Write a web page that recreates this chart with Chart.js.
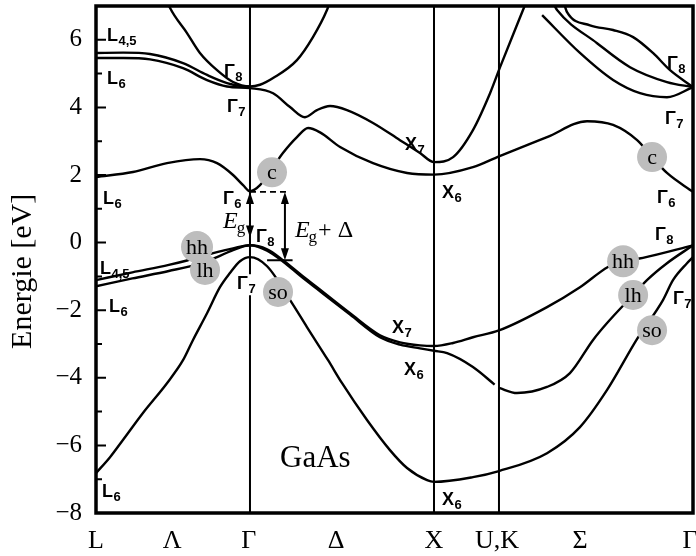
<!DOCTYPE html>
<html>
<head>
<meta charset="utf-8">
<script src="https://cdn.jsdelivr.net/npm/chart.js@4.4.0/dist/chart.umd.min.js"></script>
<style>
  html, body { margin: 0; padding: 0; background: #fff; }
</style>
</head>
<body>
<canvas id="bandChart" width="696" height="556"></canvas>
<script>
// k-path positions (L - Gamma - X - U,K - Gamma) and the axis labels under them
var kTicks = [0, 0.418, 0.84, 1.319, 1.857, 2.203, 2.659, 3.264];
var kNames = ['L', 'Λ', 'Γ', 'Δ', 'X', 'U,K', 'Σ', 'Γ'];
var kLines = [0.846, 1.857, 2.214];
var eTicks = [-8, -6, -4, -2, 0, 2, 4, 6];
var eMinor = [-7, -5, -3, -1, 1, 3, 5];

// bands, [k, E in eV]
var gam8Upper = [[0.38, 7.3], [0.407, 6.94], [0.5, 6.2], [0.571, 5.61], [0.665, 5.10], [0.753, 4.75], [0.846, 4.62],
  [0.901, 4.67], [0.973, 4.87], [1.104, 5.40], [1.192, 6.08], [1.269, 6.88], [1.29, 7.2]];
var l45Upper = [[0, 5.61], [0.15, 5.62], [0.297, 5.58], [0.478, 5.31], [0.61, 4.96], [0.72, 4.72], [0.80, 4.63], [0.846, 4.62]];
var l6Upper = [[0, 5.46], [0.15, 5.46], [0.297, 5.42], [0.478, 5.16], [0.61, 4.81], [0.72, 4.62], [0.846, 4.57],
  [0.973, 4.42], [1.066, 4.01], [1.148, 3.71], [1.214, 3.92], [1.286, 4.04], [1.379, 3.92], [1.522, 3.54],
  [1.670, 3.03], [1.780, 2.65], [1.857, 2.38], [1.962, 2.53], [2.071, 3.33], [2.165, 4.42], [2.220, 5.19],
  [2.346, 6.88], [2.37, 7.2]];
var cBand = [[0, 1.94], [0.203, 2.09], [0.39, 2.35], [0.571, 2.47], [0.665, 2.35], [0.753, 2.0], [0.808, 1.70],
  [0.846, 1.52], [0.901, 1.70], [1.027, 2.65], [1.104, 3.12], [1.165, 3.39], [1.231, 3.26], [1.341, 2.83],
  [1.522, 2.35], [1.709, 2.06], [1.857, 2.01], [2.071, 2.23], [2.214, 2.55], [2.478, 3.12], [2.698, 3.59],
  [2.841, 3.48], [2.973, 3.03], [3.06, 2.50], [3.137, 2.06], [3.28, 1.50]];
var sigmaA = [[2.451, 6.73], [2.659, 5.61], [2.841, 4.81], [2.989, 4.42], [3.137, 4.30], [3.28, 4.60]];
var sigmaB = [[2.52, 7.0], [2.533, 6.88], [2.753, 5.90], [2.934, 5.19], [3.137, 4.75], [3.28, 4.60]];
var sigmaC = [[2.57, 7.1], [2.588, 6.82], [2.714, 6.43], [2.841, 6.29], [2.951, 6.08], [3.060, 5.61], [3.154, 5.10], [3.28, 4.60]];
var hhBand = [[0, -1.11], [0.2, -0.88], [0.4, -0.66], [0.5, -0.53], [0.665, -0.28], [0.753, -0.17], [0.846, -0.08],
  [0.94, -0.2], [1.027, -0.52], [1.126, -0.95], [1.214, -1.32], [1.396, -2.09], [1.56, -2.74], [1.67, -2.95],
  [1.78, -3.04], [1.857, -3.06], [1.962, -2.97], [2.071, -2.80], [2.214, -2.60], [2.478, -1.91], [2.659, -1.32],
  [2.813, -0.72], [2.896, -0.55], [3.005, -0.45], [3.28, -0.08]];
var lhBand = [[0, -1.29], [0.2, -1.06], [0.4, -0.84], [0.571, -0.62], [0.665, -0.43], [0.753, -0.22], [0.846, -0.08],
  [0.94, -0.24], [1.027, -0.56], [1.126, -1.0], [1.214, -1.37], [1.396, -2.13], [1.56, -2.8], [1.67, -3.02],
  [1.78, -3.13], [1.857, -3.2], [1.929, -3.27], [2.071, -3.68], [2.19, -4.2]];
var lhSigma = [[2.214, -4.30], [2.313, -4.45], [2.478, -4.27], [2.604, -3.86], [2.731, -2.88], [2.808, -2.38],
  [2.951, -1.55], [3.027, -1.11], [3.137, -0.61], [3.28, -0.08]];
var soBand = [[0, -6.82], [0.077, -6.35], [0.148, -5.84], [0.258, -5.04], [0.39, -4.16], [0.478, -3.48], [0.533, -2.88],
  [0.61, -2.09], [0.681, -1.32], [0.736, -0.90], [0.791, -0.55], [0.846, -0.43], [0.94, -0.70], [1.077, -1.79],
  [1.159, -2.50], [1.275, -3.48], [1.352, -4.16], [1.489, -5.25], [1.615, -6.14], [1.709, -6.67], [1.819, -7.03],
  [1.857, -7.08], [2.071, -6.94], [2.214, -6.76], [2.478, -6.23], [2.659, -5.46], [2.808, -4.36], [2.973, -2.85],
  [3.115, -1.70], [3.17, -1.11], [3.247, -0.61], [3.28, -0.43]];

var bands = [gam8Upper, l45Upper, l6Upper, cBand, sigmaA, sigmaB, sigmaC, hhBand, lhBand, lhSigma, soBand];

// symmetry labels: main letter, subscript, k, E (left/baseline)
var symLabels = [
  ['L', '4,5', 0.060, 5.96], ['L', '6', 0.060, 4.69], ['Γ', '8', 0.703, 4.90], ['Γ', '7', 0.720, 3.86],
  ['L', '6', 0.038, 1.14], ['Γ', '6', 0.698, 1.14], ['Γ', '8', 0.879, 0.01], ['L', '4,5', 0.022, -0.93],
  ['L', '6', 0.071, -2.06], ['Γ', '7', 0.775, -1.38], ['X', '7', 1.698, 2.74], ['X', '6', 1.901, 1.32],
  ['X', '7', 1.626, -2.68], ['X', '6', 1.692, -3.92], ['X', '6', 1.901, -7.77], ['L', '6', 0.033, -7.53],
  ['Γ', '8', 3.137, 5.13], ['Γ', '7', 3.126, 3.51], ['Γ', '6', 3.082, 1.17], ['Γ', '8', 3.071, 0.07],
  ['Γ', '7', 3.170, -1.82]
];
var bubbles = [
  ['c', 0.967, 2.08], ['hh', 0.555, -0.13], ['lh', 0.599, -0.81], ['so', 1.0, -1.46],
  ['c', 3.055, 2.53], ['hh', 2.896, -0.55], ['lh', 2.951, -1.55], ['so', 3.055, -2.59]
];

var serif = '"Liberation Serif", "DejaVu Serif", serif';
var sans = '"Liberation Sans", Arial, sans-serif';

function arrowHead(ctx, x, y, dir) {
  // dir = -1 points up, 1 points down; (x, y) is the tip
  ctx.beginPath();
  ctx.moveTo(x, y);
  ctx.lineTo(x - 4, y - dir * 12);
  ctx.lineTo(x + 4, y - dir * 12);
  ctx.closePath();
  ctx.fill();
}

function symLabel(ctx, x, y, main, sub, backing) {
  ctx.font = 'bold 18px ' + sans;
  var w = ctx.measureText(main).width;
  ctx.font = 'bold 13px ' + sans;
  var ws = ctx.measureText(sub).width;
  if (backing) {
    ctx.fillStyle = '#fff';
    ctx.fillRect(x - 1, y - 15, w + ws + 3, 21);
    ctx.fillStyle = '#000';
  }
  ctx.font = 'bold 18px ' + sans;
  ctx.fillText(main, x, y);
  ctx.font = 'bold 13px ' + sans;
  ctx.fillText(sub, x + w + 0.5, y + 4);
}

function gapLabel(ctx, x, y, tail) {
  ctx.font = 'italic 24px ' + serif;
  ctx.fillText('E', x, y);
  var w = ctx.measureText('E').width;
  ctx.font = '17px ' + serif;
  ctx.fillText('g', x + w - 1, y + 5);
  var wg = ctx.measureText('g').width;
  if (tail) {
    ctx.font = '24px ' + serif;
    ctx.fillText(tail, x + w + wg, y);
  }
}

var decor = {
  id: 'decor',
  beforeDatasetsDraw: function (chart) {
    var ctx = chart.ctx, a = chart.chartArea, xs = chart.scales.x;
    ctx.save();
    ctx.strokeStyle = '#000';
    ctx.lineWidth = 2;
    kLines.forEach(function (k) {
      var px = xs.getPixelForValue(k);
      ctx.beginPath();
      ctx.moveTo(px, a.top);
      ctx.lineTo(px, a.bottom);
      ctx.stroke();
    });
    ctx.restore();
  },
  afterDatasetsDraw: function (chart) {
    var ctx = chart.ctx, a = chart.chartArea, xs = chart.scales.x, ys = chart.scales.y;
    var X = function (k) { return xs.getPixelForValue(k); };
    var Y = function (e) { return ys.getPixelForValue(e); };
    ctx.save();
    ctx.fillStyle = '#000';
    ctx.strokeStyle = '#000';

    // gap arrows at Gamma
    var gx = X(0.846), dx = X(1.038);
    arrowHead(ctx, gx, Y(1.5), -1);
    arrowHead(ctx, gx, Y(0.15), 1);
    ctx.setLineDash([6, 4]);
    ctx.lineWidth = 1.6;
    ctx.beginPath();
    ctx.moveTo(gx, Y(1.5));
    ctx.lineTo(X(1.06), Y(1.5));
    ctx.stroke();
    ctx.setLineDash([]);
    ctx.lineWidth = 2;
    ctx.beginPath();
    ctx.moveTo(dx, Y(1.5) + 4);
    ctx.lineTo(dx, Y(-0.52) - 4);
    ctx.moveTo(X(0.94), Y(-0.52));
    ctx.lineTo(X(1.08), Y(-0.52));
    ctx.stroke();
    arrowHead(ctx, dx, Y(1.5), -1);
    arrowHead(ctx, dx, Y(-0.52), 1);

    ctx.textAlign = 'left';
    ctx.textBaseline = 'alphabetic';
    gapLabel(ctx, X(0.698), Y(0.43));
    gapLabel(ctx, X(1.093), Y(0.16), '+ Δ');

    // band character bubbles
    bubbles.forEach(function (b) {
      var cx = X(b[1]), cy = Y(b[2]);
      ctx.fillStyle = '#bdbdbd';
      ctx.beginPath();
      ctx.arc(cx, cy, b[0] === 'hh' ? 16 : 15, 0, Math.PI * 2);
      ctx.fill();
      ctx.fillStyle = '#000';
      ctx.font = '22px ' + serif;
      ctx.textAlign = 'center';
      ctx.textBaseline = 'middle';
      ctx.fillText(b[0], cx, cy + 1);
    });

    ctx.textAlign = 'left';
    ctx.textBaseline = 'alphabetic';
    symLabels.forEach(function (s, i) {
      symLabel(ctx, X(s[2]), Y(s[3]), s[0], s[1], i === 9);
    });

    ctx.font = '31px ' + serif;
    ctx.fillText('GaAs', X(1.011), Y(-6.64));

    // frame and inward ticks
    ctx.lineWidth = 3.5;
    ctx.strokeRect(a.left, a.top, a.right - a.left, a.bottom - a.top);
    ctx.lineWidth = 2;
    ctx.beginPath();
    eTicks.forEach(function (e) {
      ctx.moveTo(a.left, Y(e));
      ctx.lineTo(a.left + 10, Y(e));
    });
    eMinor.forEach(function (e) {
      ctx.moveTo(a.left, Y(e));
      ctx.lineTo(a.left + 6, Y(e));
    });
    ctx.stroke();

    // k-path labels
    ctx.font = '26px ' + serif;
    ctx.textAlign = 'center';
    kTicks.forEach(function (k, i) {
      ctx.fillText(kNames[i], X(k), 548);
    });

    // energy axis title, sits a little below the middle of the frame
    ctx.translate(23, Y(-0.85));
    ctx.rotate(-Math.PI / 2);
    ctx.textBaseline = 'middle';
    ctx.font = '30px ' + serif;
    ctx.fillText('Energie [eV]', 0, 0);
    ctx.restore();
  }
};

var ctx = document.getElementById('bandChart');
var bandChart = new Chart(ctx, {
  type: 'scatter',
  data: {
    datasets: bands.map(function (b) {
      return {
        data: b.map(function (p) { return { x: p[0], y: p[1] }; }),
        showLine: true,
        borderColor: '#000',
        borderWidth: 2.4,
        pointRadius: 0,
        cubicInterpolationMode: 'monotone'
      };
    })
  },
  options: {
    responsive: false,
    animation: false,
    devicePixelRatio: 1,
    layout: { padding: { top: 6, right: 3, bottom: 43, left: 0 } },
    plugins: { legend: { display: false }, tooltip: { enabled: false } },
    scales: {
      x: { type: 'linear', min: 0, max: 3.28, display: false },
      y: {
        min: -8,
        max: 7,
        afterBuildTicks: function (scale) {
          scale.ticks = eTicks.map(function (v) { return { value: v }; });
        },
        afterFit: function (scale) {
          scale.width = 96;
          // the top tick sits well below the frame, so no extra room is needed
          scale.paddingTop = 0;
          scale.paddingBottom = 0;
        },
        grid: { display: false, drawTicks: false },
        border: { display: false },
        ticks: {
          padding: 14,
          color: '#000',
          font: { family: serif, size: 25 },
          callback: function (v) { return v < 0 ? '\u2212' + (-v) : '' + v; }
        }
      }
    }
  },
  plugins: [decor]
});
</script>
</body>
</html>
